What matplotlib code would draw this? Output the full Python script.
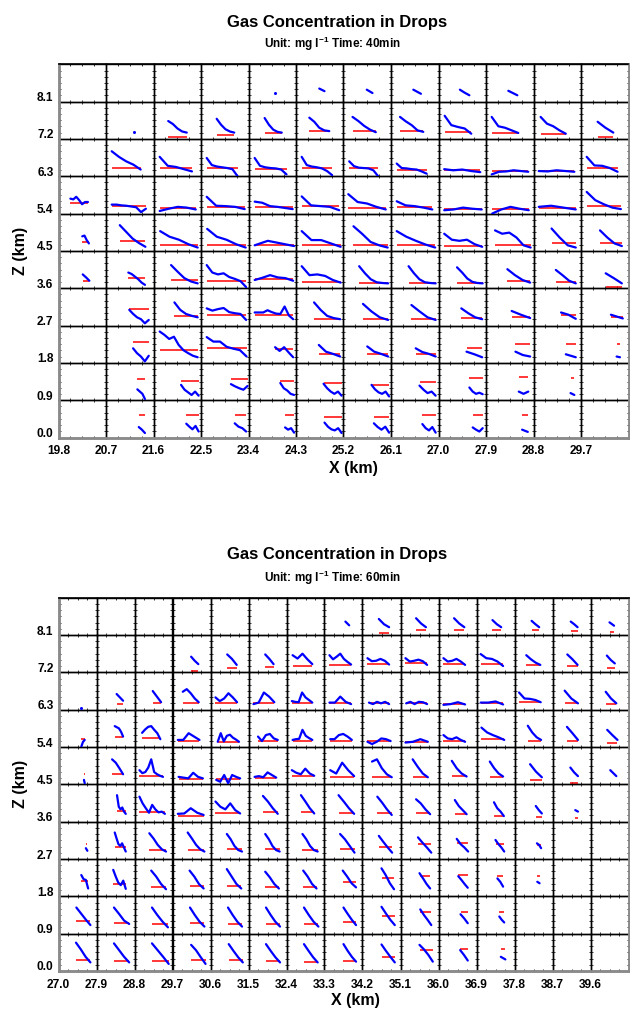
import matplotlib
matplotlib.use("Agg")
import matplotlib.pyplot as plt
import matplotlib.transforms as mtransforms
import numpy as np

plt.rcParams['font.family'] = ['Liberation Sans', 'DejaVu Sans']
plt.rcParams['font.weight'] = 'bold'
plt.rcParams['mathtext.default'] = 'regular'

# ---------------------------------------------------------------- data
# Each cell: (first bin position, last bin position, concentration profile, mean level)
# positions / levels are fractions of the cell box; None = no data in that cell.

T40_X_TICKS = [19.8, 20.7, 21.6, 22.5, 23.4, 24.3, 25.2, 26.1, 27.0, 27.9, 28.8, 29.7]
T40_Z_TICKS = [0.0, 0.9, 1.8, 2.7, 3.6, 4.5, 5.4, 6.3, 7.2, 8.1]

t40_z81 = [None, None, None, None,
           (0.56, 0.56, [0.23], None),
           (0.49, 0.60, [0.35, 0.28], None),
           (0.49, 0.61, [0.32, 0.23], None),
           (0.47, 0.63, [0.32, 0.21], None),
           (0.45, 0.65, [0.32, 0.24, 0.17], None),
           (0.47, 0.66, [0.29, 0.23, 0.17], None),
           None, None]
t40_z72 = [None,
           (0.59, 0.59, [0.19], None),
           (0.31, 0.70, [0.48, 0.40, 0.28, 0.20, 0.17], 0.04),
           (0.33, 0.70, [0.54, 0.38, 0.26, 0.20, 0.17], 0.11),
           (0.34, 0.70, [0.56, 0.38, 0.25, 0.19, 0.17], 0.16),
           (0.28, 0.70, [0.57, 0.46, 0.30, 0.23, 0.21], 0.20),
           (0.19, 0.68, [0.59, 0.48, 0.35, 0.25, 0.18], 0.21),
           (0.19, 0.68, [0.59, 0.47, 0.37, 0.23, 0.19], 0.20),
           (0.13, 0.69, [0.62, 0.37, 0.32, 0.28, 0.14], 0.19),
           (0.12, 0.68, [0.59, 0.34, 0.30, 0.23, 0.16], 0.17),
           (0.15, 0.68, [0.59, 0.41, 0.34, 0.23, 0.14], 0.13),
           (0.35, 0.68, [0.46, 0.30, 0.17], 0.04)]
t40_z63 = [None,
           (0.12, 0.73, [0.67, 0.52, 0.40, 0.31, 0.18], 0.21),
           (0.13, 0.81, [0.52, 0.28, 0.25, 0.19, 0.13], 0.21),
           (0.12, 0.77, [0.49, 0.30, 0.26, 0.24, 0.22, 0.19, 0.0], 0.21),
           (0.13, 0.80, [0.49, 0.28, 0.24, 0.22, 0.21, 0.18, 0.05], 0.19),
           (0.12, 0.76, [0.52, 0.30, 0.26, 0.24, 0.21, 0.14, 0.03], 0.21),
           (0.12, 0.73, [0.40, 0.27, 0.23, 0.22, 0.21, 0.16, 0.0], 0.21),
           (0.12, 0.75, [0.34, 0.22, 0.21, 0.19, 0.18, 0.13, 0.07], 0.18),
           (0.12, 0.88, [0.19, 0.16, 0.18, 0.14, 0.11], 0.16),
           (0.12, 0.89, [0.05, 0.12, 0.13, 0.16, 0.14, 0.12], 0.13),
           (0.11, 0.86, [0.14, 0.13, 0.16, 0.14, 0.12], 0.14),
           (0.12, 0.77, [0.52, 0.29, 0.28, 0.22, 0.12], 0.21)]
t40_z54 = [(0.25, 0.62, [0.40, 0.38, 0.45, 0.36, 0.25, 0.31, 0.31], 0.29),
           (0.12, 0.84, [0.24, 0.24, 0.22, 0.21, 0.19, 0.17, 0.04, 0.13], 0.20),
           (0.13, 0.89, [0.07, 0.13, 0.18, 0.16, 0.11], 0.16),
           (0.12, 0.92, [0.45, 0.21, 0.20, 0.18, 0.12], 0.18),
           (0.13, 0.93, [0.32, 0.29, 0.20, 0.18, 0.15, 0.12], 0.18),
           (0.12, 0.91, [0.46, 0.22, 0.20, 0.18, 0.09], 0.20),
           (0.10, 0.89, [0.52, 0.31, 0.27, 0.18, 0.11], 0.16),
           (0.12, 0.87, [0.33, 0.22, 0.20, 0.16, 0.11], 0.18),
           (0.12, 0.91, [0.09, 0.11, 0.16, 0.13, 0.11], 0.12),
           (0.13, 0.90, [0.0, 0.11, 0.18, 0.13, 0.09], 0.12),
           (0.11, 0.89, [0.18, 0.21, 0.16, 0.11], 0.15),
           (0.12, 0.84, [0.58, 0.36, 0.25, 0.16, 0.12], 0.21)]
t40_z45 = [(0.50, 0.64, [0.39, 0.41, 0.29, 0.20], 0.23),
           (0.29, 0.83, [0.69, 0.51, 0.33, 0.21, 0.11], 0.27),
           (0.14, 0.93, [0.53, 0.38, 0.30, 0.18, 0.09], 0.17),
           (0.13, 0.94, [0.59, 0.38, 0.30, 0.18, 0.09], 0.17),
           (0.13, 0.96, [0.15, 0.27, 0.20, 0.13], 0.17),
           (0.12, 0.94, [0.53, 0.29, 0.29, 0.20, 0.11], 0.17),
           (0.21, 0.93, [0.66, 0.46, 0.24, 0.15, 0.09], 0.17),
           (0.12, 0.93, [0.53, 0.38, 0.27, 0.17, 0.09], 0.15),
           (0.12, 0.92, [0.46, 0.30, 0.27, 0.30, 0.18, 0.11], 0.13),
           (0.19, 0.94, [0.55, 0.46, 0.49, 0.36, 0.15, 0.09], 0.15),
           (0.38, 0.89, [0.60, 0.36, 0.15, 0.09], 0.20),
           (0.40, 0.86, [0.55, 0.36, 0.20, 0.13], 0.20)]
t40_z36 = [(0.51, 0.65, [0.37, 0.29, 0.20], 0.19),
           (0.47, 0.82, [0.42, 0.38, 0.31, 0.24, 0.15, 0.09], 0.28),
           (0.37, 0.93, [0.62, 0.44, 0.27, 0.18, 0.13], 0.21),
           (0.12, 0.95, [0.62, 0.42, 0.37, 0.40, 0.30, 0.25, 0.19, 0.03], 0.19),
           (0.13, 0.94, [0.22, 0.28, 0.35, 0.29, 0.27, 0.20], 0.24),
           (0.12, 0.94, [0.59, 0.35, 0.37, 0.33, 0.22, 0.15], 0.18),
           (0.33, 0.94, [0.59, 0.40, 0.24, 0.16, 0.14, 0.13], 0.15),
           (0.37, 0.94, [0.59, 0.40, 0.24, 0.16, 0.14, 0.13], 0.15),
           (0.39, 0.93, [0.56, 0.42, 0.26, 0.17, 0.14, 0.13], 0.15),
           (0.45, 0.93, [0.51, 0.35, 0.22, 0.15], 0.19),
           (0.47, 0.89, [0.49, 0.35, 0.20, 0.13], 0.18),
           (0.52, 0.86, [0.40, 0.27, 0.13], 0.03)]
t40_z27 = [None,
           (0.49, 0.90, [0.42, 0.31, 0.22, 0.17, 0.06, 0.15], 0.44),
           (0.44, 0.93, [0.62, 0.42, 0.31, 0.26, 0.22], 0.25),
           (0.12, 0.95, [0.46, 0.40, 0.44, 0.47, 0.36, 0.33, 0.31, 0.15], 0.29),
           (0.13, 0.94, [0.35, 0.35, 0.35, 0.41, 0.36, 0.32, 0.31, 0.51, 0.27, 0.17], 0.29),
           (0.38, 0.93, [0.62, 0.42, 0.26, 0.20, 0.17], 0.18),
           (0.41, 0.94, [0.58, 0.38, 0.22, 0.15], 0.17),
           (0.43, 0.94, [0.55, 0.38, 0.22, 0.15], 0.17),
           (0.48, 0.92, [0.46, 0.33, 0.22, 0.17], 0.20),
           (0.54, 0.93, [0.39, 0.29, 0.20], 0.24),
           (0.58, 0.89, [0.35, 0.29, 0.18], 0.29),
           (0.63, 0.88, [0.29, 0.24, 0.19], 0.24)]
t40_z18 = [None,
           (0.57, 0.90, [0.39, 0.26, 0.17, 0.04, 0.19], 0.56),
           (0.13, 0.93, [0.84, 0.75, 0.64, 0.70, 0.48, 0.34, 0.26, 0.19, 0.15], 0.34),
           (0.12, 0.96, [0.69, 0.57, 0.57, 0.43, 0.38, 0.34, 0.17], 0.40),
           (0.56, 0.94, [0.42, 0.32, 0.42, 0.28, 0.15], 0.37),
           (0.48, 0.93, [0.48, 0.30, 0.24, 0.17], 0.24),
           (0.50, 0.94, [0.44, 0.30, 0.24, 0.17], 0.23),
           (0.52, 0.94, [0.39, 0.29, 0.24, 0.17], 0.25),
           (0.59, 0.92, [0.30, 0.23, 0.15], 0.39),
           (0.62, 0.93, [0.30, 0.21, 0.17], 0.50),
           (0.68, 0.89, [0.23, 0.19, 0.15], 0.51),
           (0.75, 0.82, [0.17, 0.15], 0.50)]
t40_z09 = [None,
           (0.66, 0.82, [0.29, 0.23, 0.17, 0.03], 0.58),
           (0.58, 0.95, [0.41, 0.28, 0.21, 0.14, 0.23, 0.12], 0.52),
           (0.63, 0.98, [0.43, 0.37, 0.32, 0.28, 0.38], 0.56),
           (0.67, 0.96, [0.46, 0.32, 0.26, 0.17, 0.14], 0.51),
           (0.58, 0.96, [0.44, 0.32, 0.23, 0.17, 0.23, 0.12], 0.46),
           (0.59, 0.96, [0.41, 0.29, 0.21, 0.17, 0.23, 0.10], 0.41),
           (0.60, 0.94, [0.39, 0.28, 0.19, 0.23, 0.12], 0.50),
           (0.65, 0.93, [0.34, 0.23, 0.17, 0.20, 0.16], 0.59),
           (0.69, 0.89, [0.23, 0.17, 0.23], 0.61),
           (0.78, 0.86, [0.19, 0.14], 0.60),
           None]
t40_z00 = [None,
           (0.69, 0.82, [0.28, 0.21, 0.12], 0.60),
           (0.69, 0.95, [0.37, 0.29, 0.22, 0.31, 0.16], 0.59),
           (0.71, 0.95, [0.38, 0.29, 0.25, 0.16], 0.60),
           (0.77, 0.96, [0.27, 0.21, 0.25, 0.13], 0.59),
           (0.60, 0.96, [0.40, 0.29, 0.22, 0.19, 0.25, 0.12], 0.56),
           (0.64, 0.96, [0.38, 0.28, 0.21, 0.29, 0.13], 0.54),
           (0.66, 0.94, [0.36, 0.25, 0.19, 0.28, 0.13], 0.59),
           (0.72, 0.93, [0.27, 0.21, 0.16, 0.25], 0.61),
           (0.76, 0.88, [0.21, 0.15], 0.61),
           None, None]

T60_X_TICKS = [27.0, 27.9, 28.8, 29.7, 30.6, 31.5, 32.4, 33.3, 34.2, 35.1, 36.0, 36.9, 37.8, 38.7, 39.6]
T60_Z_TICKS = [0.0, 0.9, 1.8, 2.7, 3.6, 4.5, 5.4, 6.3, 7.2, 8.1]

t60_z81 = [None, None, None, None, None, None, None,
           (0.55, 0.65, [0.36, 0.26], None),
           (0.43, 0.70, [0.43, 0.29, 0.21], 0.06),
           (0.41, 0.67, [0.45, 0.31, 0.21], 0.13),
           (0.41, 0.68, [0.45, 0.31, 0.21], 0.13),
           (0.42, 0.65, [0.40, 0.29, 0.21], 0.13),
           (0.45, 0.65, [0.38, 0.29, 0.21], 0.13),
           (0.48, 0.66, [0.36, 0.29, 0.21], 0.11),
           (0.50, 0.62, [0.34, 0.25], 0.07)]
t60_z72 = [None, None, None,
           (0.49, 0.68, [0.42, 0.31, 0.22], 0.04),
           (0.44, 0.69, [0.48, 0.36, 0.20], 0.11),
           (0.44, 0.66, [0.48, 0.36, 0.22], 0.14),
           (0.16, 0.68, [0.46, 0.37, 0.50, 0.35, 0.22], 0.18),
           (0.13, 0.70, [0.46, 0.35, 0.42, 0.50, 0.36, 0.28, 0.21], 0.20),
           (0.13, 0.70, [0.38, 0.30, 0.31, 0.36, 0.31, 0.21], 0.22),
           (0.13, 0.70, [0.38, 0.29, 0.31, 0.34, 0.30, 0.20], 0.24),
           (0.13, 0.70, [0.38, 0.29, 0.31, 0.36, 0.29, 0.20], 0.23),
           (0.11, 0.70, [0.49, 0.38, 0.36, 0.29, 0.17], 0.22),
           (0.31, 0.68, [0.46, 0.35, 0.26, 0.20], 0.19),
           (0.39, 0.66, [0.48, 0.35, 0.20], 0.18),
           (0.43, 0.64, [0.45, 0.33, 0.24], 0.13)]
t60_z63 = [(0.59, 0.59, [0.04], None),
           (0.53, 0.70, [0.42, 0.33, 0.24], 0.14),
           (0.48, 0.70, [0.50, 0.35, 0.20], 0.17),
           (0.27, 0.69, [0.48, 0.55, 0.44, 0.30, 0.20], 0.19),
           (0.13, 0.70, [0.33, 0.23, 0.30, 0.44, 0.33, 0.20], 0.19),
           (0.13, 0.68, [0.15, 0.19, 0.46, 0.35, 0.20], 0.17),
           (0.14, 0.68, [0.23, 0.21, 0.20, 0.46, 0.33, 0.26, 0.19], 0.18),
           (0.13, 0.70, [0.19, 0.19, 0.35, 0.21, 0.15], 0.17),
           (0.17, 0.70, [0.19, 0.15, 0.21, 0.17, 0.21, 0.15], 0.17),
           (0.15, 0.70, [0.17, 0.21, 0.15, 0.21, 0.20, 0.15], 0.17),
           (0.13, 0.70, [0.13, 0.15, 0.20, 0.14], 0.14),
           (0.11, 0.70, [0.19, 0.19, 0.22, 0.14], 0.19),
           (0.12, 0.69, [0.46, 0.30, 0.29, 0.26, 0.20], 0.21),
           (0.32, 0.67, [0.51, 0.30, 0.17], 0.19),
           (0.40, 0.68, [0.48, 0.30, 0.17], 0.15)]
t60_z54 = [(0.60, 0.69, [0.01, 0.14, 0.19], 0.21),
           (0.48, 0.70, [0.56, 0.53, 0.50, 0.41, 0.28], 0.26),
           (0.20, 0.68, [0.38, 0.47, 0.54, 0.56, 0.46, 0.37, 0.21], 0.23),
           (0.14, 0.71, [0.19, 0.19, 0.37, 0.28, 0.19], 0.17),
           (0.19, 0.75, [0.14, 0.37, 0.15, 0.30, 0.33, 0.25, 0.20, 0.14], 0.13),
           (0.25, 0.77, [0.28, 0.16, 0.32, 0.35, 0.23, 0.19], 0.17),
           (0.16, 0.68, [0.19, 0.21, 0.22, 0.46, 0.30, 0.24, 0.19], 0.17),
           (0.15, 0.72, [0.21, 0.21, 0.32, 0.35, 0.28, 0.19], 0.17),
           (0.13, 0.74, [0.14, 0.08, 0.14, 0.23, 0.21, 0.16], 0.15),
           (0.13, 0.72, [0.12, 0.14, 0.21, 0.14], 0.14),
           (0.13, 0.70, [0.32, 0.23, 0.21, 0.26, 0.19, 0.14], 0.16),
           (0.13, 0.73, [0.52, 0.39, 0.32, 0.26, 0.19], 0.21),
           (0.35, 0.70, [0.57, 0.39, 0.26, 0.19], 0.16),
           (0.38, 0.67, [0.54, 0.37, 0.19], 0.15),
           (0.44, 0.71, [0.46, 0.32, 0.19], 0.10)]
t60_z45 = [(0.67, 0.69, [0.12, 0.03], 0.29),
           (0.41, 0.70, [0.67, 0.58, 0.43, 0.27], 0.27),
           (0.13, 0.75, [0.38, 0.30, 0.33, 0.45, 0.67, 0.33, 0.27, 0.23, 0.20], 0.22),
           (0.16, 0.80, [0.20, 0.18, 0.16, 0.31, 0.20, 0.16], 0.14),
           (0.15, 0.78, [0.12, 0.07, 0.25, 0.03, 0.25, 0.20, 0.16], 0.13),
           (0.16, 0.73, [0.20, 0.22, 0.19, 0.32, 0.25, 0.18], 0.18),
           (0.14, 0.73, [0.38, 0.31, 0.27, 0.42, 0.29, 0.23], 0.22),
           (0.15, 0.78, [0.38, 0.29, 0.58, 0.38, 0.22], 0.20),
           (0.25, 0.77, [0.61, 0.67, 0.43, 0.27, 0.19], 0.20),
           (0.32, 0.72, [0.67, 0.47, 0.29, 0.19], 0.20),
           (0.35, 0.74, [0.63, 0.43, 0.29, 0.21], 0.22),
           (0.35, 0.70, [0.61, 0.43, 0.29, 0.21], 0.19),
           (0.41, 0.72, [0.54, 0.34, 0.19], 0.12),
           (0.47, 0.67, [0.45, 0.32, 0.22], 0.03),
           (0.52, 0.68, [0.38, 0.22], None)]
t60_z36 = [None,
           (0.54, 0.77, [0.71, 0.40, 0.33, 0.38, 0.27, 0.21], 0.29),
           (0.13, 0.80, [0.67, 0.49, 0.36, 0.24, 0.45, 0.33, 0.25, 0.27, 0.21], 0.27),
           (0.14, 0.82, [0.21, 0.22, 0.36, 0.24, 0.18], 0.16),
           (0.13, 0.78, [0.54, 0.40, 0.33, 0.49, 0.31, 0.22], 0.22),
           (0.38, 0.77, [0.69, 0.54, 0.36, 0.21], 0.25),
           (0.38, 0.73, [0.71, 0.54, 0.36, 0.22], 0.25),
           (0.37, 0.78, [0.71, 0.54, 0.36, 0.21], 0.22),
           (0.39, 0.77, [0.67, 0.51, 0.33, 0.18], 0.22),
           (0.41, 0.78, [0.60, 0.49, 0.33, 0.20], 0.22),
           (0.43, 0.74, [0.58, 0.42, 0.31, 0.20], 0.20),
           (0.46, 0.72, [0.52, 0.36, 0.27, 0.15], 0.15),
           (0.56, 0.72, [0.42, 0.31, 0.22], 0.12),
           (0.60, 0.67, [0.31, 0.27], 0.09),
           None]
t60_z27 = [(0.72, 0.76, [0.29, 0.22], 0.40),
           (0.48, 0.77, [0.71, 0.55, 0.40, 0.35, 0.42, 0.31, 0.20], 0.33),
           (0.39, 0.83, [0.69, 0.55, 0.38, 0.26, 0.20], 0.24),
           (0.40, 0.84, [0.71, 0.55, 0.38, 0.26, 0.20], 0.24),
           (0.43, 0.83, [0.67, 0.53, 0.35, 0.24, 0.20], 0.26),
           (0.44, 0.82, [0.67, 0.53, 0.35, 0.24, 0.20], 0.26),
           (0.42, 0.82, [0.67, 0.53, 0.35, 0.24, 0.20], 0.25),
           (0.41, 0.79, [0.67, 0.53, 0.35, 0.17], 0.26),
           (0.43, 0.78, [0.62, 0.46, 0.31, 0.17], 0.31),
           (0.46, 0.81, [0.58, 0.44, 0.31, 0.17], 0.39),
           (0.48, 0.78, [0.54, 0.40, 0.31, 0.20], 0.42),
           (0.50, 0.73, [0.51, 0.40, 0.31, 0.20], 0.40),
           (0.59, 0.70, [0.42, 0.38, 0.29], 0.38),
           None, None]
t60_z18 = [(0.60, 0.78, [0.57, 0.46, 0.44, 0.21], 0.42),
           (0.44, 0.77, [0.71, 0.53, 0.37, 0.30, 0.42, 0.20], 0.32),
           (0.44, 0.83, [0.69, 0.53, 0.33, 0.19], 0.25),
           (0.45, 0.82, [0.69, 0.53, 0.33, 0.21], 0.27),
           (0.43, 0.81, [0.73, 0.53, 0.33, 0.21], 0.27),
           (0.44, 0.80, [0.66, 0.51, 0.33, 0.21], 0.24),
           (0.44, 0.79, [0.69, 0.53, 0.33, 0.21], 0.26),
           (0.48, 0.83, [0.69, 0.53, 0.35, 0.24], 0.38),
           (0.50, 0.83, [0.75, 0.57, 0.35, 0.19], 0.50),
           (0.50, 0.78, [0.62, 0.48, 0.33, 0.21], 0.54),
           (0.52, 0.77, [0.54, 0.44, 0.33, 0.23], 0.56),
           (0.55, 0.70, [0.48, 0.39, 0.26], 0.54),
           (0.60, 0.66, [0.39, 0.35], 0.54),
           None, None]
t60_z09 = [(0.47, 0.84, [0.70, 0.54, 0.38, 0.23], 0.33),
           (0.46, 0.86, [0.70, 0.53, 0.35, 0.26], 0.28),
           (0.46, 0.88, [0.70, 0.50, 0.32, 0.17], 0.26),
           (0.46, 0.84, [0.70, 0.50, 0.32, 0.19], 0.28),
           (0.46, 0.83, [0.70, 0.50, 0.32, 0.19], 0.27),
           (0.46, 0.83, [0.70, 0.50, 0.32, 0.19], 0.25),
           (0.46, 0.84, [0.70, 0.50, 0.32, 0.19], 0.25),
           (0.50, 0.83, [0.70, 0.53, 0.37, 0.23], 0.32),
           (0.50, 0.85, [0.72, 0.54, 0.37, 0.23], 0.48),
           (0.52, 0.81, [0.65, 0.50, 0.37, 0.23], 0.58),
           (0.58, 0.77, [0.52, 0.41, 0.28], 0.59),
           (0.60, 0.73, [0.46, 0.37, 0.30], 0.59),
           None, None, None]
t60_z00 = [(0.46, 0.84, [0.76, 0.58, 0.38, 0.23], 0.29),
           (0.46, 0.86, [0.74, 0.56, 0.38, 0.23], 0.27),
           (0.46, 0.90, [0.74, 0.56, 0.38, 0.19], 0.27),
           (0.49, 0.87, [0.70, 0.56, 0.37, 0.19], 0.29),
           (0.48, 0.85, [0.72, 0.54, 0.37, 0.23], 0.29),
           (0.46, 0.83, [0.72, 0.54, 0.37, 0.23], 0.27),
           (0.46, 0.82, [0.72, 0.54, 0.37, 0.23], 0.25),
           (0.50, 0.83, [0.72, 0.54, 0.38, 0.25], 0.27),
           (0.50, 0.85, [0.71, 0.54, 0.38, 0.23], 0.37),
           (0.50, 0.85, [0.70, 0.58, 0.43, 0.25], 0.56),
           (0.57, 0.77, [0.56, 0.43, 0.28], 0.59),
           (0.64, 0.76, [0.38, 0.31], 0.59),
           None, None, None]

T40_ROWS = [t40_z00, t40_z09, t40_z18, t40_z27, t40_z36, t40_z45, t40_z54, t40_z63, t40_z72, t40_z81]
T60_ROWS = [t60_z00, t60_z09, t60_z18, t60_z27, t60_z36, t60_z45, t60_z54, t60_z63, t60_z72, t60_z81]

# ---------------------------------------------------------------- drawing
W, H = 630, 1011
fig = plt.figure(figsize=(W / 100, H / 100), dpi=100)
fig.patch.set_facecolor('white')

BLUE = '#0000ff'
RED = '#ff0000'


def draw_chart(rows, x_ticks, z_ticks, left, right, top, bottom,
               title, subtitle, title_xy, sub_xy, xlab_xy, zlab_xy):
    nrows = len(rows)
    ncols = len(rows[0])
    cw = (right - left) / ncols
    rh = (bottom - top) / nrows
    for i, row in enumerate(rows):
        for j, cell in enumerate(row):
            px0 = left + j * cw
            py1 = bottom - i * rh
            ax = fig.add_axes([px0 / W, 1 - py1 / H, cw / W, rh / H])
            ax.set_xlim(0, 1)
            ax.set_ylim(0, 1)
            ax.patch.set_alpha(0)
            ax.set_xticks([0.25, 0.5, 0.75])
            ax.set_yticks([1 / 6, 2 / 6, 3 / 6, 4 / 6, 5 / 6])
            ax.tick_params(direction='in', length=1.6, width=0.7, top=True, right=True,
                           labelbottom=False, labelleft=False, color='#333333')
            for sp in ax.spines.values():
                sp.set_linewidth(1.0)
                sp.set_color('black')
            if cell is None:
                continue
            b0, b1, prof, mean = cell
            bins = np.linspace(b0, b1, len(prof))
            if mean is not None:
                ax.plot([b0, b1], [mean, mean], color=RED, lw=1.1, zorder=2,
                        solid_capstyle='butt')
            if len(prof) == 1:
                ax.plot(bins, prof, 'o', color=BLUE, ms=2.2, mec='none', zorder=3)
            else:
                ax.plot(bins, prof, color=BLUE, lw=1.6, zorder=3,
                        solid_capstyle='round', solid_joinstyle='round')

    # master frame with labels
    m = fig.add_axes([left / W, 1 - bottom / H, (right - left) / W, (bottom - top) / H])
    m.set_facecolor('none')
    m.set_xlim(x_ticks[0], x_ticks[0] + ncols * 0.9)
    m.set_ylim(0, nrows * 0.9)
    m.set_xticks(x_ticks)
    m.set_xticklabels(['%.1f' % v for v in x_ticks])
    m.set_yticks([])
    m.tick_params(axis='x', length=0, pad=5.5, labelsize=8.6)
    for name, sp in m.spines.items():
        if name == 'top':
            sp.set_linewidth(1.2)
            sp.set_color('black')
        else:
            sp.set_linewidth(2.0)
            sp.set_color('#8a8a8a')
    ytr = mtransforms.offset_copy(m.get_yaxis_transform(), fig=fig, x=-5, y=3.5, units='dots')
    for z in z_ticks:
        m.text(0, z, '%.1f' % z, transform=ytr, ha='right', va='center',
               fontsize=8.6, fontweight='bold')

    fig.text(title_xy[0] / W, 1 - title_xy[1] / H, title, ha='center', va='center',
             fontsize=12, fontweight='bold')
    fig.text(sub_xy[0] / W, 1 - sub_xy[1] / H, subtitle, ha='center', va='center',
             fontsize=8.5, fontweight='bold')
    fig.text(xlab_xy[0] / W, 1 - xlab_xy[1] / H, 'X (km)', ha='center', va='center',
             fontsize=11.5, fontweight='bold')
    fig.text(zlab_xy[0] / W, 1 - zlab_xy[1] / H, 'Z (km)', ha='center', va='center',
             fontsize=11.5, fontweight='bold', rotation=90)


draw_chart(T40_ROWS, T40_X_TICKS, T40_Z_TICKS, 58.5, 628.5, 64.3, 437.5,
           'Gas Concentration in Drops', r'Unit: mg l$^{-1}$ Time: 40min',
           (337, 22), (333, 44), (353, 469), (20, 251))
draw_chart(T60_ROWS, T60_X_TICKS, T60_Z_TICKS, 58.5, 628.5, 597.7, 971.0,
           'Gas Concentration in Drops', r'Unit: mg l$^{-1}$ Time: 60min',
           (337, 555), (333, 578), (355, 1001), (20, 784))

fig.savefig('out.png', dpi=100, facecolor='white')
